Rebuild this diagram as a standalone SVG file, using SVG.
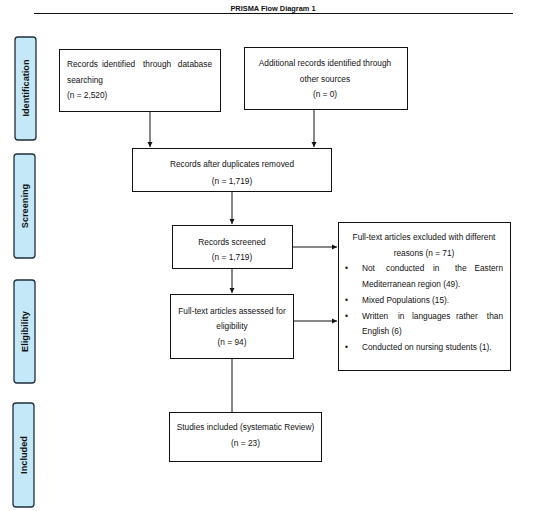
<svg xmlns="http://www.w3.org/2000/svg" width="550" height="511" viewBox="0 0 550 511">
<style>
text{font-family:"Liberation Sans",Arial,sans-serif;font-size:8.3px;fill:#111}
.c{text-anchor:middle}
.e{text-anchor:end}
.side rect{fill:#c4e8f8;stroke:#1e2e3a;stroke-width:1.3}
.side text{font-weight:bold;font-size:9.2px;text-anchor:middle}
.box rect{fill:#fff;stroke:#111;stroke-width:1}
.conn line{stroke:#111;stroke-width:1}
</style>
<defs>
<marker id="ah" markerWidth="6" markerHeight="6" refX="5" refY="3" orient="auto" markerUnits="userSpaceOnUse"><path d="M0,0.5 L5,3 L0,5.5 Z" fill="#111"/></marker>
</defs>
<rect width="550" height="511" fill="#fff"/>
<text x="273" y="11" class="c" style="font-weight:bold;font-size:7.4px">PRISMA Flow Diagram 1</text>
<line x1="34" y1="13.5" x2="513" y2="13.5" stroke="#111" stroke-width="1"/>

<g id="side-identification" class="side"><rect x="15" y="37" width="21" height="103" rx="3"/><text transform="translate(28.8,88) rotate(-90)">Identification</text></g>
<g id="side-screening" class="side"><rect x="14" y="154" width="21" height="104" rx="3"/><text transform="translate(27.8,206) rotate(-90)">Screening</text></g>
<g id="side-eligibility" class="side"><rect x="14" y="280" width="21" height="103" rx="3"/><text transform="translate(27.8,331.5) rotate(-90)">Eligibility</text></g>
<g id="side-included" class="side"><rect x="13" y="403" width="21" height="104" rx="3"/><text transform="translate(26.8,455) rotate(-90)">Included</text></g>

<g id="conn" class="conn">
<line x1="150" y1="112" x2="150" y2="147" marker-end="url(#ah)"/>
<line x1="314" y1="110" x2="314" y2="147" marker-end="url(#ah)"/>
<line x1="232" y1="192" x2="232" y2="224" marker-end="url(#ah)"/>
<line x1="292" y1="247" x2="337" y2="247" marker-end="url(#ah)"/>
<line x1="232" y1="269" x2="232" y2="293" marker-end="url(#ah)"/>
<line x1="294" y1="321" x2="337" y2="321" marker-end="url(#ah)"/>
<line x1="232" y1="347" x2="232" y2="412"/>
</g>

<g id="n-db" class="box"><rect x="59.5" y="49.5" width="161" height="62"/>
<text y="67"><tspan x="67">Records</tspan><tspan x="102">identified</tspan><tspan x="143">through</tspan></text><text x="212" y="67" class="e">database</text>
<text x="67" y="83">searching</text>
<text x="67" y="98">(n = 2,520)</text></g>

<g id="n-other" class="box"><rect x="244.5" y="47.5" width="163" height="62"/>
<text x="325" y="66" class="c">Additional records identified through</text>
<text x="325" y="82" class="c">other sources</text>
<text x="325" y="97" class="c">(n = 0)</text></g>

<g id="n-dup" class="box"><rect x="132.5" y="148.5" width="199" height="43"/>
<text x="232" y="167" class="c">Records after duplicates removed</text>
<text x="232" y="184" class="c">(n = 1,719)</text></g>

<g id="n-screened" class="box"><rect x="172.5" y="225.5" width="120" height="43"/>
<text x="232" y="245" class="c">Records screened</text>
<text x="232" y="260" class="c">(n = 1,719)</text></g>

<g id="n-excluded" class="box"><rect x="338.5" y="222.5" width="172" height="148"/>
<text x="424" y="240" class="c">Full-text articles excluded with different</text>
<text x="424" y="256" class="c">reasons (n = 71)</text>
<text x="345" y="271">•</text><text y="271"><tspan x="362">Not</tspan><tspan x="386">conducted</tspan><tspan x="433">in</tspan><tspan x="455">the</tspan></text><text x="503" y="271" class="e">Eastern</text>
<text x="362" y="287">Mediterranean region (49).</text>
<text x="345" y="303">•</text><text x="362" y="303">Mixed Populations (15).</text>
<text x="345" y="319">•</text><text y="319"><tspan x="362">Written</tspan><tspan x="398">in</tspan><tspan x="412">languages</tspan><tspan x="456">rather</tspan></text><text x="503" y="319" class="e">than</text>
<text x="362" y="334">English (6)</text>
<text x="345" y="350">•</text><text x="362" y="350">Conducted on nursing students (1).</text></g>

<g id="n-assessed" class="box"><rect x="170.5" y="294.5" width="123" height="64"/>
<text x="232" y="314" class="c">Full-text articles assessed for</text>
<text x="232" y="329" class="c">eligibility</text>
<text x="232" y="345" class="c">(n = 94)</text></g>

<g id="n-included" class="box"><rect x="169.5" y="412.5" width="152" height="49"/>
<text x="245.5" y="430" class="c">Studies included (systematic Review)</text>
<text x="245.5" y="446" class="c">(n = 23)</text></g>
</svg>
